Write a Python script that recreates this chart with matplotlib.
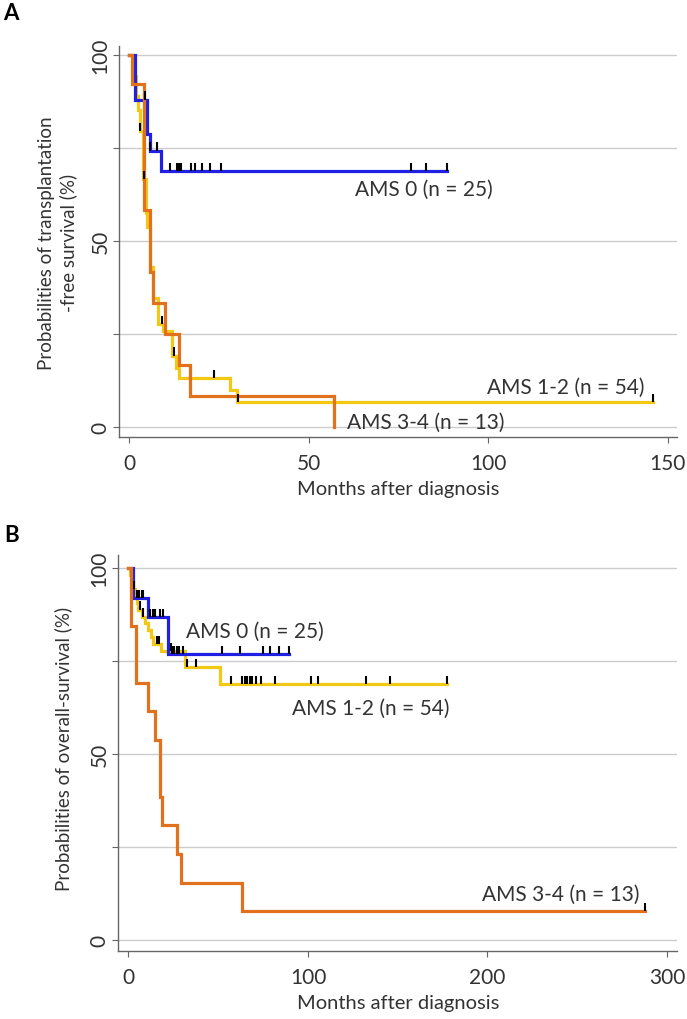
import matplotlib.pyplot as plt

plt.rcParams['font.family'] = ['Lato', 'DejaVu Sans']

# ---- panel A: transplantation-free survival (step times in months, % after each step)
a_ams0_t = [1.6, 4.9, 5.8, 8.9]
a_ams0_s = [88.0, 78.8, 74.3, 68.9]
a_ams0_end = 88.4
a_ams0_cens = [4.4, 5.8, 7.8, 11.4, 13.3, 13.9, 14.3, 17.2, 18.3, 20.2, 22.4, 25.4, 78.6, 82.6, 88.4]

a_ams12_t = [1.0, 1.8, 2.4, 2.9, 3.8, 4.6, 4.9, 5.8, 6.7, 8.1, 9.5, 11.8, 13.0, 13.7, 28.1, 30.0]
a_ams12_s = [94.4, 88.9, 85.2, 79.6, 66.7, 57.4, 53.7, 42.9, 34.6, 27.7, 25.9, 19.2, 15.8, 13.2, 10.0, 6.6]
a_ams12_end = 145.9
a_ams12_cens = [3.0, 4.0, 9.2, 12.3, 23.5, 30.3, 145.9]

a_ams34_t = [0.7, 4.0, 5.8, 6.7, 10.0, 13.9, 16.8, 57.0]
a_ams34_s = [92.3, 58.3, 41.7, 33.3, 25.0, 16.7, 8.3, 0.0]
a_ams34_end = 57.0
a_ams34_cens = []

# ---- panel B: overall survival
b_ams0_t = [2.7, 11.0, 22.2]
b_ams0_s = [92.0, 86.8, 76.9]
b_ams0_end = 89.6
b_ams0_cens = [4.6, 6.0, 7.4, 8.2, 12.0, 13.5, 14.8, 17.5, 19.4, 24.1, 25.3, 26.9, 28.1,
               30.2, 51.9, 62.1, 74.8, 78.9, 83.6, 89.6]

b_ams12_t = [0.8, 1.5, 2.5, 3.5, 4.5, 5.5, 7.5, 9.0, 11.0, 12.3, 13.5, 18.0, 31.5, 51.0]
b_ams12_s = [98.1, 96.3, 94.4, 92.6, 90.7, 88.9, 87.0, 85.2, 83.3, 81.5, 79.6, 77.8, 73.4, 68.8]
b_ams12_end = 177.4
b_ams12_cens = [3.0, 6.2, 8.0, 15.7, 17.2, 23.5, 32.8, 37.4, 56.9, 63.4, 64.7, 66.0, 67.5,
                69.0, 70.8, 74.0, 81.4, 101.8, 105.5, 132.3, 145.7, 177.4]

b_ams34_t = [1.2, 4.2, 11.0, 14.8, 17.5, 18.5, 26.9, 29.2, 63.1]
b_ams34_s = [84.6, 69.2, 61.5, 53.8, 38.5, 30.8, 23.1, 15.4, 7.7]
b_ams34_end = 287.8
b_ams34_cens = [287.8]

labels = ['AMS 0 (n = 25)', 'AMS 1-2 (n = 54)', 'AMS 3-4 (n = 13)']
blue = '#2020e4'
yellow = '#f2c814'
orange = '#e2711d'
textc = '#333333'
spinec = '#666666'


def surv_at(t, times, vals):
    s = 100.0
    for ti, v in zip(times, vals):
        if ti <= t:
            s = v
    return s


def km(ax, times, vals, end, cens, color):
    x = [0] + times + [end]
    y = [100.0] + vals + [vals[-1]]
    ax.step(x, y, where='post', color=color, lw=2.3, zorder=3, solid_joinstyle='miter')
    for c in cens:
        lev = surv_at(c, times, vals)
        ax.vlines(c, lev, lev + 2.2, color='black', lw=1.5, zorder=4)


def style(ax, xlim, ylim, xticks):
    ax.set_xlim(*xlim)
    ax.set_ylim(*ylim)
    ax.set_yticks([0, 25, 50, 75, 100])
    ax.set_yticklabels(['0', '', '50', '', '100'], rotation=90, va='center')
    ax.set_xticks(xticks)
    for y in [0, 25, 50, 75, 100]:
        ax.axhline(y, color='#cccccc', lw=1, zorder=1)
    for s in ['top', 'right']:
        ax.spines[s].set_visible(False)
    for s in ['left', 'bottom']:
        ax.spines[s].set_color(spinec)
        ax.spines[s].set_linewidth(1)
    ax.tick_params(axis='both', direction='out', length=4, color=spinec,
                   labelcolor=textc, labelsize=15)
    ax.tick_params(axis='x', pad=8)
    ax.tick_params(axis='y', pad=2)


fig = plt.figure(figsize=(6.87, 10.2), dpi=100)

axA = fig.add_axes([0.1732, 0.5709, 0.8118, 0.3833])
km(axA, a_ams12_t, a_ams12_s, a_ams12_end, a_ams12_cens, yellow)
km(axA, a_ams0_t, a_ams0_s, a_ams0_end, a_ams0_cens, blue)
km(axA, a_ams34_t, a_ams34_s, a_ams34_end, a_ams34_cens, orange)
style(axA, (-2.9, 152.5), (-2.6, 102.5), [0, 50, 100, 150])
axA.text(63.0, 64.1, labels[0], fontsize=15, color=textc, va='center')
axA.text(99.7, 10.7, labels[1], fontsize=15, color=textc, va='center')
axA.text(60.6, 1.3, labels[2], fontsize=15, color=textc, va='center')

axB = fig.add_axes([0.1718, 0.0670, 0.8132, 0.388])
km(axB, b_ams12_t, b_ams12_s, b_ams12_end, b_ams12_cens, yellow)
km(axB, b_ams0_t, b_ams0_s, b_ams0_end, b_ams0_cens, blue)
km(axB, b_ams34_t, b_ams34_s, b_ams34_end, b_ams34_cens, orange)
style(axB, (-5.8, 305.4), (-2.9, 103.6), [0, 100, 200, 300])
axB.text(32.0, 83.1, labels[0], fontsize=15, color=textc, va='center')
axB.text(91.0, 62.4, labels[1], fontsize=15, color=textc, va='center')
axB.text(196.8, 12.4, labels[2], fontsize=15, color=textc, va='center')

fig.text(0.0837, 0.7618, 'Probabilities of transplantation\n-free survival (%)',
         rotation=90, ha='center', va='center', multialignment='center',
         fontsize=13.5, color=textc, linespacing=1.3)
fig.text(0.0917, 0.2657, 'Probabilities of overall-survival (%)',
         rotation=90, ha='center', va='center', fontsize=13.5, color=textc)
fig.text(0.579, 1 - 489 / 1020, 'Months after diagnosis', ha='center', va='center',
         fontsize=14.5, color=textc)
fig.text(0.579, 1 - 1004 / 1020, 'Months after diagnosis', ha='center', va='center',
         fontsize=14.5, color=textc)
fig.text(11 / 687, 1 - 14 / 1020, 'A', fontsize=16, fontweight='bold', ha='center', va='center')
fig.text(12 / 687, 1 - 535 / 1020, 'B', fontsize=16, fontweight='bold', ha='center', va='center')

fig.savefig('out.png', dpi=100, facecolor='white')
